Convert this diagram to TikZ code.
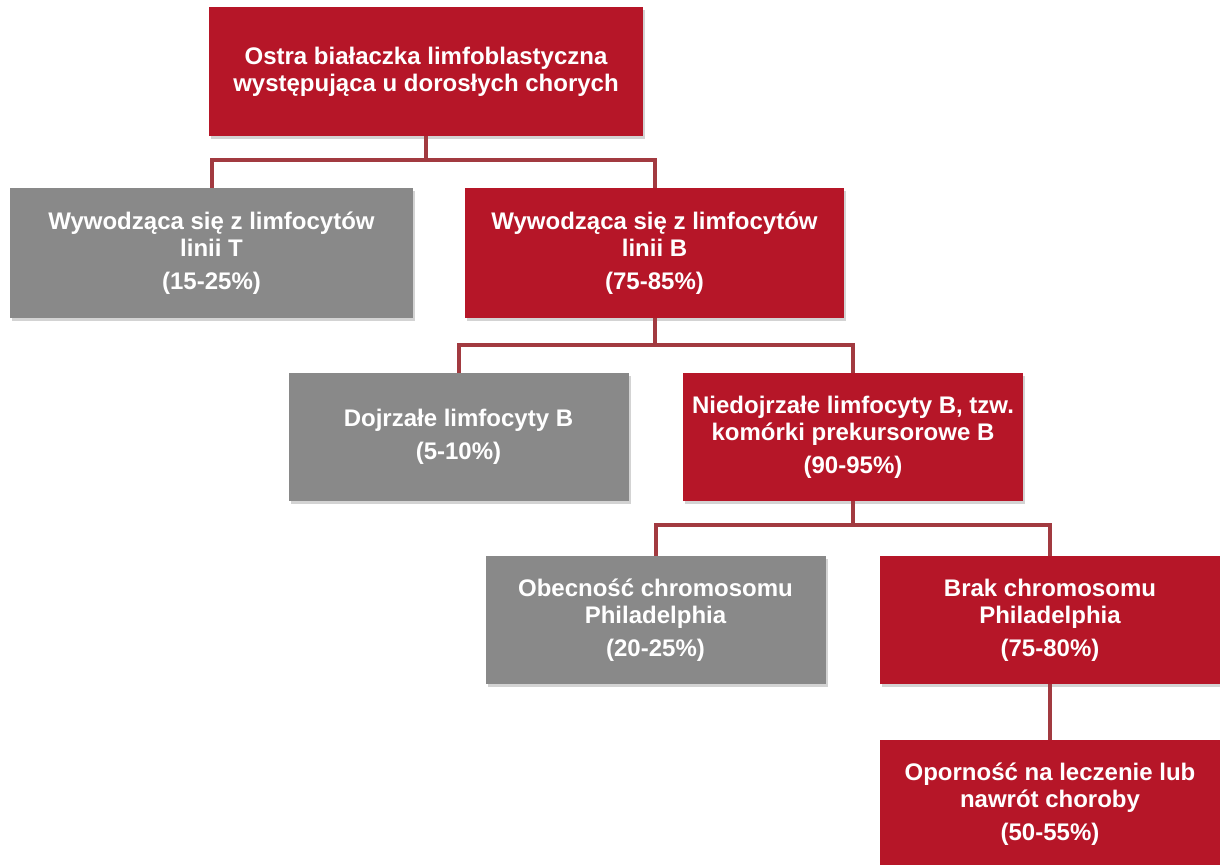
\documentclass[tikz,border=0pt]{standalone}
\usepackage{fontspec}
\setmainfont{Liberation Sans}
\usetikzlibrary{shadows}
\definecolor{boxred}{RGB}{182,22,40}
\definecolor{boxgray}{RGB}{137,137,137}
\definecolor{linkred}{RGB}{162,58,64}
\tikzset{
  box/.style={draw=none, rectangle, align=center, text=white,
    font=\fontsize{24bp}{27bp}\selectfont\bfseries,
    minimum width=340bp, minimum height=128bp, inner sep=2bp,
    drop shadow={opacity=0.35, shadow xshift=2bp, shadow yshift=-3bp}},
  redbox/.style={box, fill=boxred},
  graybox/.style={box, fill=boxgray},
  link/.style={draw=linkred, line width=4bp},
}
\begin{document}
\begin{tikzpicture}[x=1bp,y=-1bp]
  \useasboundingbox (0,0) rectangle (1220,865);
  % Level 0
  \node [redbox, minimum width=434bp, minimum height=129bp] (all) at (426,71.5)
    {Ostra białaczka limfoblastyczna\\występująca u dorosłych chorych};
  % Level 1
  \node [graybox, minimum width=403bp, minimum height=130bp] (lineT) at (211.5,253)
    {Wywodząca się z limfocytów\\linii T\\[6bp](15-25\%)};
  \node [redbox, minimum width=379bp, minimum height=130bp] (lineB) at (654.5,253)
    {Wywodząca się z limfocytów\\linii B\\[6bp](75-85\%)};
  % Level 2
  \node [graybox] (mature) at (458.5,437)
    {Dojrzałe limfocyty B\\[6bp](5-10\%)};
  \node [redbox] (precursor) at (853,437)
    {Niedojrzałe limfocyty B, tzw.\\komórki prekursorowe B\\[6bp](90-95\%)};
  % Level 3
  \node [graybox] (phpos) at (655.5,620)
    {Obecność chromosomu\\Philadelphia\\[6bp](20-25\%)};
  \node [redbox] (phneg) at (1050,620)
    {Brak chromosomu\\Philadelphia\\[6bp](75-80\%)};
  % Level 4
  \node [redbox, minimum height=128bp] (relapse) at (1050,804)
    {Oporność na leczenie lub\\nawrót choroby\\[6bp](50-55\%)};
  % Connectors
  \draw [link] (all.south) -- ++(0,24) -| (lineT.north);
  \draw [link] (all.south) -- ++(0,24) -| (lineB.north);
  \draw [link] (lineB.south) -- ++(0,27) -| (mature.north);
  \draw [link] (lineB.south) -- ++(0,27) -| (precursor.north);
  \draw [link] (precursor.south) -- ++(0,24) -| (phpos.north);
  \draw [link] (precursor.south) -- ++(0,24) -| (phneg.north);
  \draw [link] (phneg.south) -- (relapse.north);
\end{tikzpicture}
\end{document}
